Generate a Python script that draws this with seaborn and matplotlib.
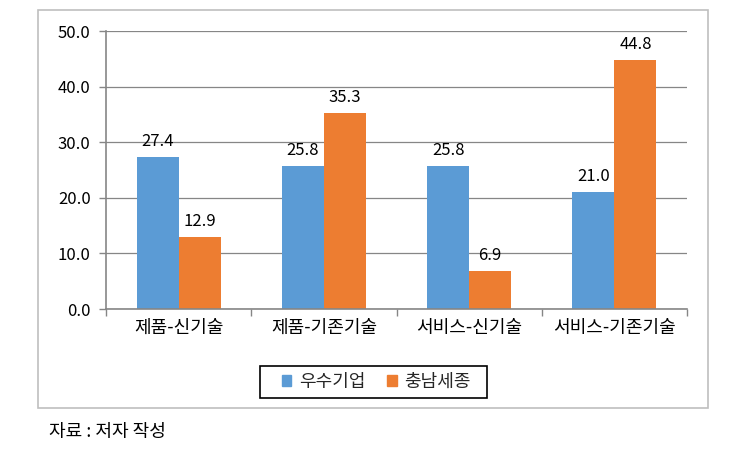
import matplotlib
matplotlib.use("Agg")
import matplotlib.pyplot as plt
import seaborn as sns
import pandas as pd
from matplotlib.patches import Rectangle

categories = ["제품-신기술", "제품-기존기술", "서비스-신기술", "서비스-기존기술"]
series_names = ["우수기업", "충남세종"]
excellent = [27.4, 25.8, 25.8, 21.0]
chungnam = [12.9, 35.3, 6.9, 44.8]
yticks = [0, 10, 20, 30, 40, 50]
source_text = "자료 : 저자 작성"

colors = ["#5B9BD5", "#ED7D31"]

df = pd.DataFrame({
    "category": categories * 2,
    "series": [series_names[0]] * 4 + [series_names[1]] * 4,
    "value": excellent + chungnam,
})

sns.set_theme(style="white")
plt.rcParams['font.family'] = ['Noto Sans CJK KR', 'DejaVu Sans']

fig = plt.figure(figsize=(7.32, 4.54), dpi=100)
W, H = 732, 454
ax = fig.add_axes([106 / W, 1 - 309 / H, (687 - 106) / W, (309 - 31) / H])

sns.barplot(data=df, x="category", y="value", hue="series", palette=colors,
            width=0.58, saturation=1, ax=ax, edgecolor="none", legend=False)

ax.set_ylim(0, 50)
ax.set_yticks(yticks)
ax.set_yticklabels([f"{v:.1f}" for v in yticks], fontsize=12, color="#000000")
ax.set_xlim(-0.5, 3.5)
ax.set_xlabel("")
ax.set_ylabel("")
ax.tick_params(axis="x", labelsize=13, colors="#000000", length=0, pad=7)
ax.tick_params(axis="y", length=5, color="#868686", width=1, pad=6, left=True)
ax.set_xticks([-0.5, 0.5, 1.5, 2.5, 3.5], minor=True)
ax.tick_params(axis="x", which="minor", length=5, color="#868686", width=1, bottom=True)

ax.yaxis.grid(True, color="#868686", linewidth=0.9)
ax.set_axisbelow(True)
for s in ["top", "right"]:
    ax.spines[s].set_visible(False)
for s in ["left", "bottom"]:
    ax.spines[s].set_color("#868686")
    ax.spines[s].set_linewidth(1.2)

for cont in ax.containers:
    ax.bar_label(cont, labels=[f"{v:.1f}" for v in cont.datavalues], padding=5,
                 fontsize=12, color="#000000")

# legend (content) + manual frame
handles = [Rectangle((0, 0), 1, 1, color=c) for c in colors]
leg = fig.legend(handles, series_names, loc="center",
                 bbox_to_anchor=(376 / W, 1 - 382 / H),
                 ncol=2, fontsize=13, frameon=False, handlelength=0.55, handleheight=0.55,
                 handletextpad=0.4, columnspacing=1.2, borderpad=0.2, borderaxespad=0)
fig.patches.append(Rectangle((260 / W, 1 - 398 / H), (487 - 260) / W, (398 - 366) / H,
                             transform=fig.transFigure, fill=False,
                             edgecolor="#000000", linewidth=1.2))

# outer frame
fig.patches.append(Rectangle((38 / W, 1 - 408 / H), (708 - 38) / W, (408 - 10) / H,
                             transform=fig.transFigure, fill=False,
                             edgecolor="#BFBFBF", linewidth=1.2))

fig.text(49 / W, 1 - 432 / H, source_text, fontsize=13, va="center", ha="left", color="#000000")

fig.savefig("out.png", dpi=100)
